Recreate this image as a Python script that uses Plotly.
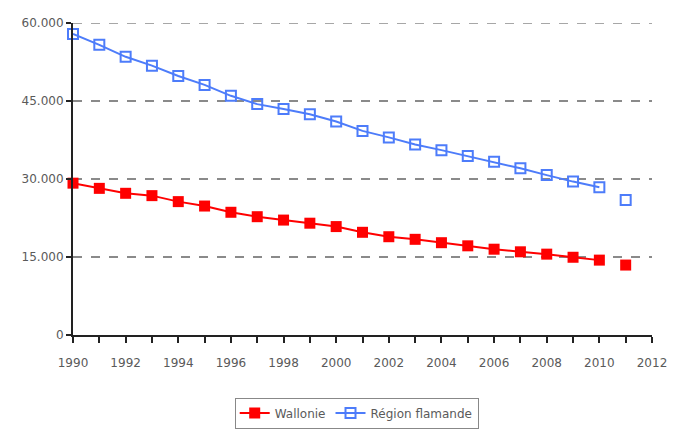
import plotly.graph_objects as go

years = list(range(1990, 2012))
wallonie = [29200, 28200, 27250, 26800, 25650, 24800, 23600, 22750, 22100, 21500,
            20850, 19750, 18900, 18400, 17750, 17150, 16500, 16000, 15550, 14950,
            14400, 13450]
flamande = [57900, 55800, 53500, 51800, 49800, 48100, 46000, 44400, 43450, 42450,
            41050, 39250, 38000, 36650, 35550, 34400, 33300, 32050, 30750, 29500,
            28400, 25950]
y_ticks = [0, 15000, 30000, 45000, 60000]
y_labels = ["0", "15.000", "30.000", "45.000", "60.000"]
x_ticks = list(range(1990, 2013, 2))

RED = "#ff0000"
BLUE = "#4d7cfa"

fig = go.Figure()
fig.add_trace(go.Scatter(
    x=years[:-1], y=wallonie[:-1], mode="lines+markers", name="Wallonie",
    line=dict(color=RED, width=2),
    marker=dict(symbol="square", size=11, color=RED),
    cliponaxis=False, legendgroup="w"))
fig.add_trace(go.Scatter(
    x=years[-1:], y=wallonie[-1:], mode="markers", name="Wallonie",
    marker=dict(symbol="square", size=11, color=RED),
    cliponaxis=False, legendgroup="w", showlegend=False))
fig.add_trace(go.Scatter(
    x=years[:-1], y=flamande[:-1], mode="lines+markers", name="Région flamande",
    line=dict(color=BLUE, width=2),
    marker=dict(symbol="square-open", size=10, color=BLUE, line=dict(width=2, color=BLUE)),
    cliponaxis=False, legendgroup="f"))
fig.add_trace(go.Scatter(
    x=years[-1:], y=flamande[-1:], mode="markers", name="Région flamande",
    marker=dict(symbol="square-open", size=10, color=BLUE, line=dict(width=2, color=BLUE)),
    cliponaxis=False, legendgroup="f", showlegend=False))

fig.add_hline(y=y_ticks[-1], line=dict(color="#8a8a8a", width=1.5, dash="dash"), layer="below")

fig.update_layout(
    width=674, height=422,
    margin=dict(l=65, r=30, t=15, b=95, autoexpand=False),
    plot_bgcolor="white", paper_bgcolor="white",
    font=dict(family="DejaVu Sans", size=12, color="#5a5a5a"),
    legend=dict(orientation="h", x=0.49, xanchor="center",
                yref="container", y=0.077, yanchor="top",
                bordercolor="#888888", borderwidth=1, font=dict(size=12, color="#5a5a5a"),
                tracegroupgap=0),
    xaxis=dict(range=[1990, 2012], tickvals=x_ticks, showgrid=False,
               showline=True, linecolor="#222222", linewidth=2,
               ticks="outside", ticklen=6, tickwidth=2, tickcolor="#222222",
               ticklabelstandoff=10,
               minor=dict(dtick=1, tick0=1990, ticks="outside", ticklen=6, tickwidth=2,
                          tickcolor="#222222", showgrid=False),
               zeroline=False, fixedrange=True, automargin=False),
    yaxis=dict(range=[0, 60000], tickvals=y_ticks, ticktext=y_labels,
               showgrid=True, gridcolor="#8a8a8a", gridwidth=1.5, griddash="dash",
               showline=True, linecolor="#222222", linewidth=2,
               ticks="outside", ticklen=5, tickwidth=2, tickcolor="#222222",
               zeroline=False, fixedrange=True, automargin=False),
)

fig.write_html("out.html")
